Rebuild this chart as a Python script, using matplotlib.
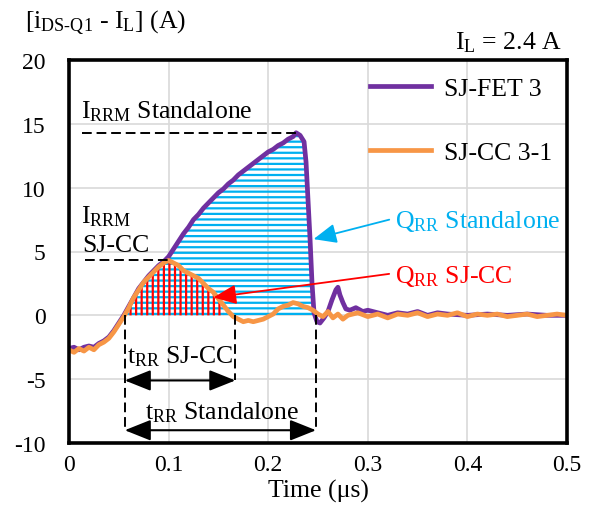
"""
Reverse-recovery current of SJ-FET 3 vs SJ-CC 3-1 (I_L = 2.4 A).
"""

import matplotlib
matplotlib.use("Agg")
import matplotlib.pyplot as plt
import numpy as np

plt.rcParams["font.family"] = ["Liberation Serif", "DejaVu Serif"]
plt.rcParams["mathtext.fontset"] = "custom"
plt.rcParams["mathtext.rm"] = "Liberation Serif"
plt.rcParams["mathtext.it"] = "Liberation Serif:italic"
plt.rcParams["hatch.linewidth"] = 1.6
plt.rcParams["axes.unicode_minus"] = False

PURPLE = "#7030A0"
ORANGE = "#F79646"
BLUE = "#00B0F0"
RED = "#FF0000"

# ---- data ----
t_fet = [0.000, 0.005, 0.010, 0.015, 0.020, 0.025, 0.030, 0.035, 0.040, 0.045,
         0.050, 0.055, 0.060, 0.065, 0.070, 0.075, 0.080, 0.085, 0.090, 0.095,
         0.100, 0.105, 0.110, 0.115, 0.120, 0.125, 0.130, 0.135, 0.140, 0.145,
         0.150, 0.155, 0.160, 0.165, 0.170, 0.175, 0.180, 0.185, 0.190, 0.195,
         0.200, 0.205, 0.210, 0.215, 0.220, 0.225, 0.228, 0.232, 0.236, 0.238,
         0.240, 0.242, 0.244, 0.246, 0.249, 0.252, 0.256, 0.260, 0.264, 0.268,
         0.270, 0.272, 0.275, 0.278, 0.282, 0.288, 0.295, 0.300, 0.310, 0.320,
         0.330, 0.340, 0.350, 0.360, 0.370, 0.380, 0.400, 0.420, 0.440, 0.460,
         0.480, 0.500]
i_fet = [-2.6, -2.5, -2.7, -2.5, -2.4, -2.5, -2.2, -2.0, -1.7, -1.2,
         -0.6, 0.0, 0.7, 1.4, 2.1, 2.6, 3.1, 3.5, 3.9, 4.2,
         4.6, 5.2, 5.8, 6.4, 6.9, 7.5, 7.9, 8.4, 8.8, 9.2,
         9.6, 9.9, 10.3, 10.6, 11.0, 11.3, 11.6, 11.9, 12.2, 12.5,
         12.8, 13.0, 13.3, 13.5, 13.8, 14.0, 14.3, 14.1, 13.6, 12.0,
         9.0, 6.0, 2.5, 0.2, -0.5, -0.6, -0.2, 0.3, 1.2, 2.0,
         2.2, 1.6, 1.0, 0.5, 0.4, 0.6, 0.3, 0.4, 0.2, 0.0,
         0.2, 0.1, 0.3, 0.0, 0.2, 0.1, 0.0, 0.1, 0.0, 0.1,
         0.0, 0.0]

t_cc = [0.000, 0.005, 0.010, 0.015, 0.020, 0.025, 0.030, 0.035, 0.040, 0.045,
        0.050, 0.055, 0.060, 0.065, 0.070, 0.075, 0.080, 0.085, 0.090, 0.095,
        0.100, 0.105, 0.110, 0.115, 0.120, 0.125, 0.130, 0.135, 0.140, 0.145,
        0.150, 0.155, 0.160, 0.165, 0.170, 0.175, 0.180, 0.185, 0.190, 0.195,
        0.200, 0.205, 0.210, 0.215, 0.220, 0.225, 0.230, 0.235, 0.240, 0.245,
        0.250, 0.255, 0.260, 0.265, 0.270, 0.275, 0.280, 0.290, 0.300, 0.310,
        0.320, 0.330, 0.340, 0.350, 0.360, 0.370, 0.380, 0.390, 0.400, 0.410,
        0.420, 0.430, 0.440, 0.450, 0.460, 0.470, 0.480, 0.490, 0.500]
i_cc = [-2.7, -2.9, -2.6, -2.8, -2.5, -2.7, -2.3, -2.1, -1.8, -1.3,
        -0.7, -0.1, 0.6, 1.4, 2.0, 2.6, 3.0, 3.4, 3.8, 4.1,
        4.3, 4.1, 3.9, 3.5, 3.3, 3.1, 2.9, 2.5, 2.1, 1.8,
        1.3, 0.8, 0.3, -0.1, -0.3, -0.5, -0.4, -0.5, -0.4, -0.3,
        -0.1, 0.1, 0.5, 0.7, 0.8, 1.0, 0.9, 0.7, 0.6, 0.4,
        0.1, -0.1, 0.3, -0.2, 0.1, -0.3, 0.0, 0.2, -0.1, 0.1,
        -0.2, 0.1, 0.0, 0.2, -0.1, 0.1, 0.0, 0.2, -0.1, 0.1,
        0.0, 0.1, -0.1, 0.0, 0.1, -0.1, 0.0, 0.1, 0.0]

# reverse-recovery markers (µs)
TRR_START = 0.056
TRR_END_CC = 0.167
TRR_END_SA = 0.248
QRR_END_CC = 0.155

HYPH = "\u2010"


def main():
    t_f, y_f = np.array(t_fet), np.array(i_fet)
    t_c, y_c = np.array(t_cc), np.array(i_cc)

    fig = plt.figure(figsize=(5.97, 5.06), dpi=100)
    ax = fig.add_axes([69 / 597, 1 - 444 / 506, 498 / 597, 383 / 506])

    # hatched Q_RR areas
    with plt.rc_context({"hatch.color": BLUE}):
        m = (t_f >= TRR_START - 0.001) & (t_f <= TRR_END_SA)
        ax.fill_between(t_f, y_f, 0, where=m, facecolor="none",
                        edgecolor=BLUE, hatch="---", linewidth=0, zorder=2)
    with plt.rc_context({"hatch.color": RED}):
        m = (t_c >= TRR_START - 0.001) & (t_c <= QRR_END_CC)
        ax.fill_between(t_c, y_c, 0, where=m, facecolor="none",
                        edgecolor=RED, hatch="|||", linewidth=0, zorder=2.1)

    ax.plot(t_f, y_f, color=PURPLE, lw=3.4, label="SJ-FET 3", zorder=3)
    ax.plot(t_c, y_c, color=ORANGE, lw=3.4, label="SJ-CC 3-1", zorder=3.1)

    # I_RRM / t_RR guide lines
    ds = (0, (5, 2.5))
    irrm_sa, irrm_cc = y_f.max(), y_c.max()
    ax.plot([0.013, t_f[y_f.argmax()]], [irrm_sa, irrm_sa], color="k",
            lw=1.4, ls=ds, zorder=4)
    ax.plot([0.016, t_c[y_c.argmax()]], [irrm_cc, irrm_cc], color="k",
            lw=1.4, ls=ds, zorder=4)
    for x, ybot in [(TRR_START, -9.0), (TRR_END_CC, -5.1), (TRR_END_SA, -9.0)]:
        ax.plot([x, x], [0, ybot], color="k", lw=1.4, ls=ds, zorder=4)

    arr = dict(arrowstyle="<|-|>,head_length=0.8,head_width=0.32",
               color="k", lw=1.5, mutation_scale=20, shrinkA=0, shrinkB=0)
    ax.annotate("", xy=(TRR_START, -5.1), xytext=(TRR_END_CC, -5.1),
                arrowprops=arr, zorder=5)
    ax.annotate("", xy=(TRR_START, -9.0), xytext=(TRR_END_SA, -9.0),
                arrowprops=arr, zorder=5)

    fs = 18.5
    ax.text(0.012, 15.5, r"I$_{\mathrm{RRM}}$ Standalone", fontsize=fs,
            va="baseline", zorder=5)
    ax.text(0.012, 7.3, r"I$_{\mathrm{RRM}}$", fontsize=fs, va="baseline",
            zorder=5)
    ax.text(0.013, 5.05, "SJ-CC", fontsize=fs, va="baseline", zorder=5)
    ax.text(0.058, -3.7, r"t$_{\mathrm{RR}}$ SJ-CC", fontsize=fs,
            va="baseline", zorder=5)
    ax.text(0.076, -8.1, r"t$_{\mathrm{RR}}$ Standalone", fontsize=fs,
            va="baseline", zorder=5)

    ax.annotate(r"Q$_{\mathrm{RR}}$ Standalone", xy=(0.2455, 5.97),
                xytext=(0.327, 6.9), color=BLUE, fontsize=fs, va="baseline",
                arrowprops=dict(arrowstyle="-|>,head_length=0.7,head_width=0.3",
                                color=BLUE, lw=1.3, mutation_scale=20,
                                shrinkA=2, shrinkB=0,
                                relpos=(0, 0.6)), zorder=5)
    ax.annotate(r"Q$_{\mathrm{RR}}$ SJ-CC", xy=(0.145, 1.4),
                xytext=(0.327, 2.6), color=RED, fontsize=fs, va="baseline",
                arrowprops=dict(arrowstyle="-|>,head_length=0.7,head_width=0.3",
                                color=RED, lw=1.3, mutation_scale=20,
                                shrinkA=2, shrinkB=0,
                                relpos=(0, 0.6)), zorder=5)

    ax.text(0.989, 1.031, r"I$_{\mathrm{L}}$ = 2.4 A", fontsize=fs,
            ha="right", va="baseline", transform=ax.transAxes)
    fig.text(25 / 597, 1 - 28 / 506,
             r"[i$_{\mathrm{DS" + HYPH + r"Q1}}$ - I$_{\mathrm{L}}$] (A)",
             fontsize=fs, va="baseline", ha="left")

    ax.set_xlim(0, 0.5)
    ax.set_ylim(-10, 20)
    ax.set_xticks([0, 0.1, 0.2, 0.3, 0.4, 0.5])
    ax.set_xticklabels(["0", "0.1", "0.2", "0.3", "0.4", "0.5"])
    ax.set_yticks([-10, -5, 0, 5, 10, 15, 20])
    ax.tick_params(length=0, labelsize=17)
    ax.tick_params(axis="y", pad=17)
    ax.tick_params(axis="x", pad=8)
    ax.set_xlabel("Time (\u03bcs)", fontsize=fs, labelpad=3)
    ax.grid(color="#D9D9D9", lw=1.2)
    ax.set_axisbelow(True)
    for s in ax.spines.values():
        s.set_linewidth(2.6)
        s.set_zorder(6)

    ax.legend(loc="upper left", bbox_to_anchor=(0.604, 0.955), frameon=False,
              fontsize=fs, handlelength=2.4, handletextpad=0.5,
              labelspacing=1.57, borderpad=0, borderaxespad=0)

    fig.savefig("out.png", dpi=100)


if __name__ == "__main__":
    main()
